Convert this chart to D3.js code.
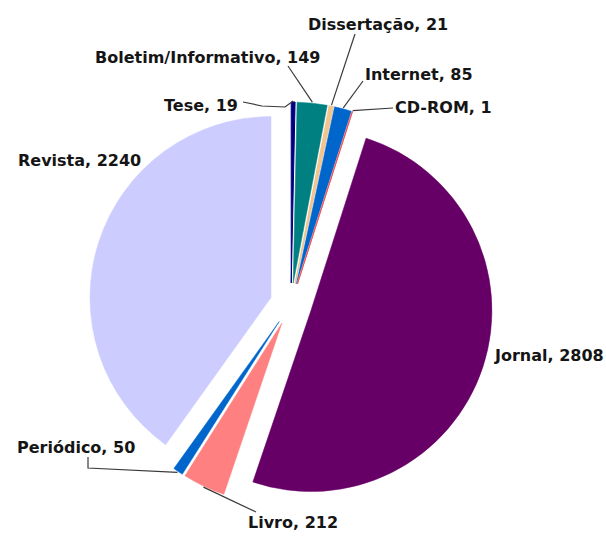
<!DOCTYPE html>
<html>
<head>
<meta charset="utf-8">
<script src="https://cdn.jsdelivr.net/npm/d3@7"></script>
<style>
  body { margin: 0; background: #fff; }
  text { font-family: "DejaVu Sans", Verdana, sans-serif; font-weight: bold; font-size: 16px; fill: #151515; }
</style>
</head>
<body>
<div id="chart"></div>
<script>
// data
var categories = ["Tese", "Boletim/Informativo", "Dissertação", "Internet", "CD-ROM", "Jornal", "Livro", "Periódico", "Revista"];
var values = [19, 149, 21, 85, 1, 2808, 212, 50, 2240];

var colors = ["#000080", "#008080", "#F2C48E", "#0066CC", "#FF5050", "#660066", "#FF8080", "#0066CC", "#CCCCFF"];

// label placement (baseline x,y) and end of leader line
var labelPos = {
  "Tese":                {x: 164, y: 111, line: [[243, 102], [262, 106], [285, 107]]},
  "Boletim/Informativo": {x: 95,  y: 63,  line: [[288, 66]]},
  "Dissertação":         {x: 308, y: 30,  line: [[355, 34]]},
  "Internet":            {x: 365, y: 80,  line: [[363, 81]]},
  "CD-ROM":              {x: 395, y: 113, line: [[393, 108]]},
  "Jornal":              {x: 495, y: 361, line: null},
  "Livro":               {x: 248, y: 528, line: [[256, 512]]},
  "Periódico":           {x: 17,  y: 453, line: [[88, 457], [88, 468]]},
  "Revista":             {x: 18,  y: 166, line: null}
};

const svgWidth = 606, svgHeight = 538;
const cx = 291, cy = 304, radius = 181, explode = 21;

var svg = d3.select("#chart").append("svg")
  .attr("width", svgWidth)
  .attr("height", svgHeight);

var g = svg.append("g").attr("transform", "translate(" + cx + "," + cy + ")");

var pie = d3.pie().sort(null).value(d => d.value);
var arc = d3.arc().innerRadius(0).outerRadius(radius);

var rows = categories.map((c, i) => ({name: c, value: values[i], color: colors[i]}));
var arcs = pie(rows);

function offset(d, dist) {
  var a = (d.startAngle + d.endAngle) / 2;
  return [Math.sin(a) * dist, -Math.cos(a) * dist];
}

g.selectAll("path.slice")
  .data(arcs).enter()
  .append("path")
    .attr("class", "slice")
    .attr("d", arc)
    .attr("transform", d => "translate(" + offset(d, explode) + ")")
    .style("fill", d => d.data.color)
    .style("stroke", d => d.data.color)
    .style("stroke-width", d => d.value < 30 ? 1 : 0.5);

// leader lines
var line = d3.line();
g.selectAll("path.leader")
  .data(arcs.filter(d => labelPos[d.data.name].line)).enter()
  .append("path")
    .attr("class", "leader")
    .attr("d", function(d) {
      var p = offset(d, explode + radius + 1);
      var pts = labelPos[d.data.name].line.slice().reverse().map(q => [q[0] - cx, q[1] - cy]);
      return line([p].concat(pts));
    })
    .style("fill", "none")
    .style("stroke", "#3a3a3a")
    .style("stroke-width", 1.2);

// labels
svg.selectAll("text.label")
  .data(arcs).enter()
  .append("text")
    .attr("class", "label")
    .attr("x", d => labelPos[d.data.name].x)
    .attr("y", d => labelPos[d.data.name].y)
    .text(d => d.data.name + ", " + d.data.value);
</script>
</body>
</html>
